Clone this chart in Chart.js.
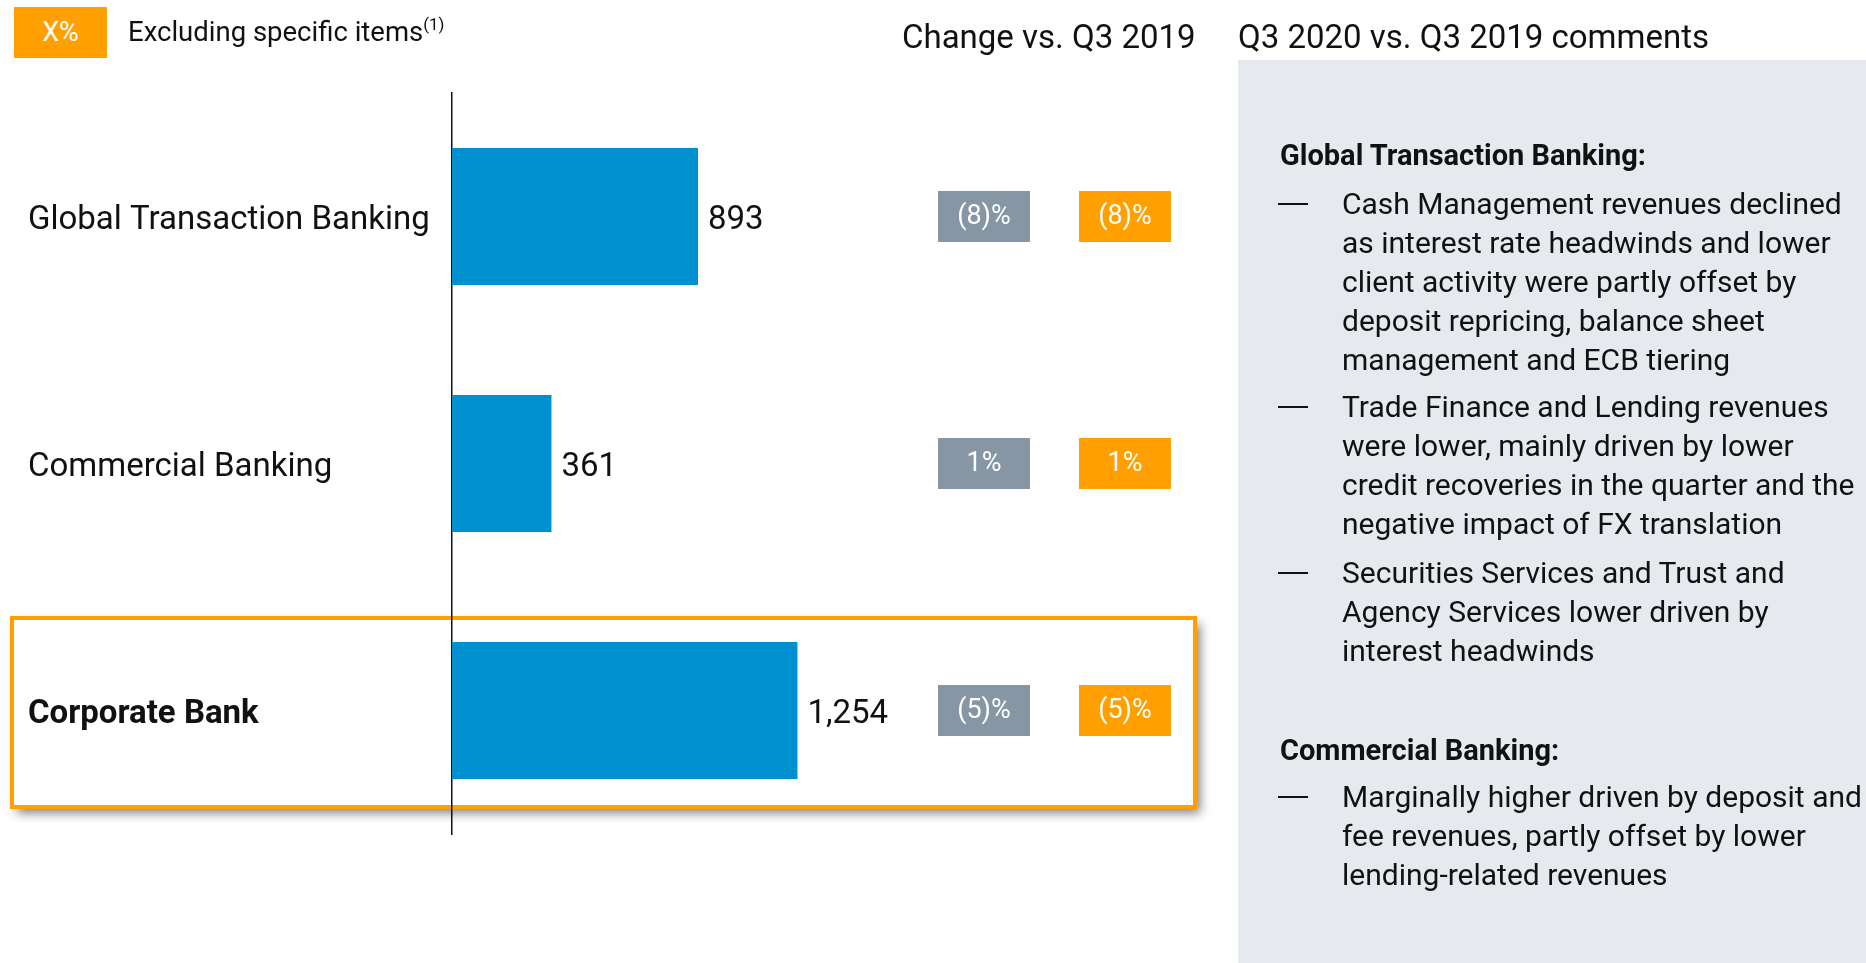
<!DOCTYPE html>
<html>
<head>
<meta charset="utf-8">
<script src="https://cdn.jsdelivr.net/npm/chart.js@4.4.0/dist/chart.umd.min.js"></script>
<style>
  html, body { margin: 0; padding: 0; background: #fff; }
  body { width: 1866px; height: 963px; position: relative; overflow: hidden; font-family: Roboto, "Noto Sans", sans-serif; color: #111; }
  #chart { position: absolute; left: 0; top: 0; }
  .abs { position: absolute; white-space: nowrap; }
  .key { left: 14px; top: 7px; width: 93px; height: 51px; background: #FFA000; color: #fff; font-size: 27px; line-height: 51px; text-align: center; }
  .keytxt { left: 128px; top: 13px; font-size: 27.5px; line-height: 38px; }
  .keytxt sup { font-size: 17px; vertical-align: 11px; line-height: 0; }
  .head { top: 17px; font-size: 33px; line-height: 40px; }
  .panel { left: 1238px; top: 60px; right: 0; bottom: 0; background: #E6E9EE; }
  .ph { left: 1280px; font-size: 29px; font-weight: bold; line-height: 39px; }
  .pb { left: 1342px; font-size: 30px; line-height: 39px; }
  .dash { left: 1278px; width: 30px; height: 0; border-top: 2px solid #111; }
</style>
</head>
<body>
<canvas id="chart" width="1866" height="963"></canvas>

<div class="abs key">X%</div>
<div class="abs keytxt">Excluding specific items<sup>(1)</sup></div>
<div class="abs head" style="left:902px">Change vs. Q3 2019</div>
<div class="abs head" style="left:1238px">Q3 2020 vs. Q3 2019 comments</div>

<div class="abs panel"></div>
<div class="abs ph" style="top:136px">Global Transaction Banking:</div>
<div class="abs dash" style="top:203px"></div>
<div class="abs pb" style="top:184px">Cash Management revenues declined<br>as interest rate headwinds and lower<br>client activity were partly offset by<br>deposit repricing, balance sheet<br>management and ECB tiering</div>
<div class="abs dash" style="top:406px"></div>
<div class="abs pb" style="top:387px">Trade Finance and Lending revenues<br>were lower, mainly driven by lower<br>credit recoveries in the quarter and the<br>negative impact of FX translation</div>
<div class="abs dash" style="top:572px"></div>
<div class="abs pb" style="top:553px">Securities Services and Trust and<br>Agency Services lower driven by<br>interest headwinds</div>
<div class="abs ph" style="top:731px">Commercial Banking:</div>
<div class="abs dash" style="top:796px"></div>
<div class="abs pb" style="top:777px">Marginally higher driven by deposit and<br>fee revenues, partly offset by lower<br>lending-related revenues</div>

<script>
// Q3 2020 net revenues, EUR m
const categories = ['Global Transaction Banking', 'Commercial Banking', 'Corporate Bank'];
const revenues = [893, 361, 1254];
// change vs. Q3 2019, in %
const changeReported = [-8, 1, -5];
const changeExSpecific = [-8, 1, -5];

const BLUE = '#0090D0';
const GREY = '#8796A5';
const ORANGE = '#FFA000';

function pct(v) {
  return v < 0 ? '(' + Math.abs(v) + ')%' : v + '%';
}

// orange frame round the total row
const highlightBox = {
  id: 'highlightBox',
  beforeDraw(chart) {
    const c = chart.ctx;
    const y = chart.scales.y.getPixelForValue(2) + 2;
    c.save();
    c.shadowColor = 'rgba(0,0,0,0.5)';
    c.shadowOffsetX = 5;
    c.shadowOffsetY = 6;
    c.shadowBlur = 10;
    c.fillStyle = '#fff';
    c.fillRect(12, y - 94.5, 1183, 189);
    c.shadowColor = 'transparent';
    c.strokeStyle = ORANGE;
    c.lineWidth = 4;
    c.strokeRect(12, y - 94.5, 1183, 189);
    c.restore();
  }
};

// value labels and change boxes
const extras = {
  id: 'extras',
  afterDatasetsDraw(chart) {
    const c = chart.ctx;
    const meta = chart.getDatasetMeta(0);
    c.save();
    c.textBaseline = 'middle';
    meta.data.forEach((bar, i) => {
      c.fillStyle = '#111';
      c.textAlign = 'left';
      c.font = '33px Roboto';
      c.fillText(revenues[i].toLocaleString('en-US'), bar.x + 10, bar.y + 4);

      const cols = [[984, GREY, changeReported[i]], [1125, ORANGE, changeExSpecific[i]]];
      cols.forEach(([cx, col, v]) => {
        c.fillStyle = col;
        c.fillRect(cx - 46, bar.y - 25.5, 92, 51);
        c.fillStyle = '#fff';
        c.textAlign = 'center';
        c.font = '27px Roboto';
        c.fillText(pct(v), cx, bar.y + 1);
      });
    });
    c.restore();
  }
};

new Chart(document.getElementById('chart'), {
  type: 'bar',
  data: {
    labels: categories,
    datasets: [{
      data: revenues,
      backgroundColor: BLUE,
      borderWidth: 0,
      categoryPercentage: 1,
      barPercentage: 0.555
    }]
  },
  options: {
    indexAxis: 'y',
    responsive: false,
    animation: false,
    devicePixelRatio: 1,
    layout: { padding: { left: 28, top: 93, bottom: 129, right: 863 } },
    plugins: { legend: { display: false }, tooltip: { enabled: false } },
    scales: {
      x: { display: false, min: 0, max: 2000 },
      y: {
        grid: { display: false },
        border: { display: true, color: '#111', width: 1.5 },
        afterFit(scale) { scale.width = 424; },
        ticks: {
          crossAlign: 'far',
          labelOffset: 4,
          color: '#111',
          font: (ctx) => ({ family: 'Roboto', size: 33, weight: ctx.index === 2 ? 'bold' : 'normal' })
        }
      }
    }
  },
  plugins: [highlightBox, extras]
});
</script>
</body>
</html>
